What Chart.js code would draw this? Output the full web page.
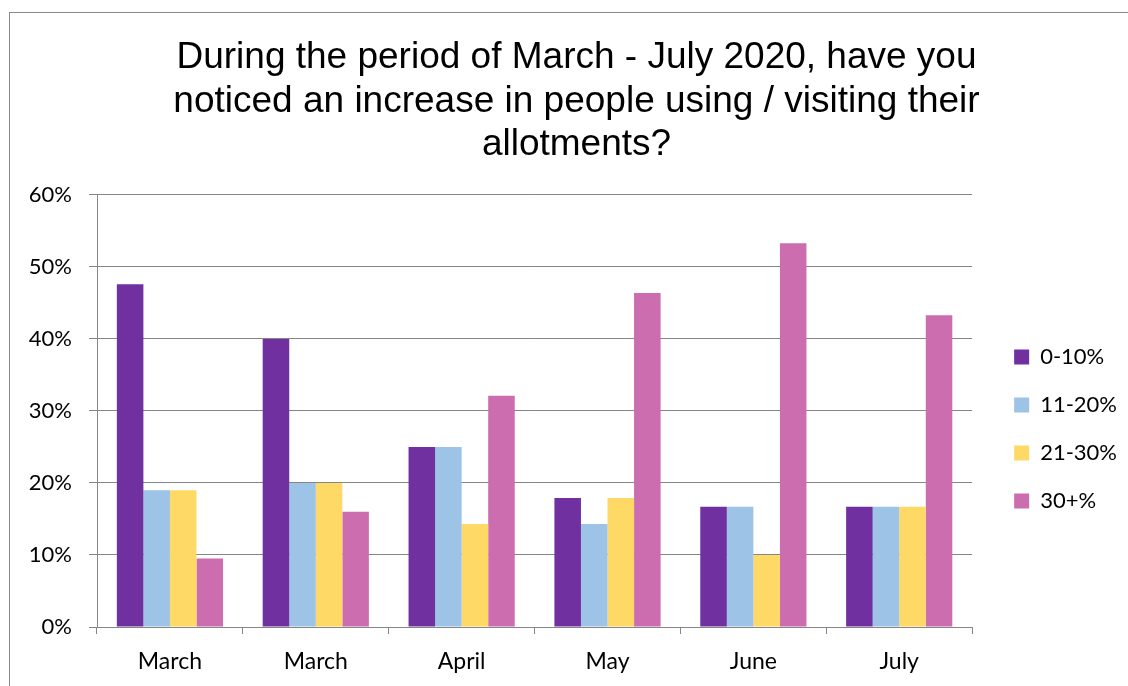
<!DOCTYPE html>
<html><head><meta charset="utf-8">
<script src="https://cdn.jsdelivr.net/npm/chart.js@4.4.1/dist/chart.umd.min.js"></script>
<style>
html,body{margin:0;padding:0;overflow:hidden;background:#fff;width:1128px;height:686px;}
#frame{position:absolute;left:9px;top:12px;width:1300px;height:900px;border:1px solid #8a8a8a;box-sizing:border-box;}
#wrap{position:absolute;left:0;top:0;width:1152px;height:686px;}
</style></head><body>
<div id="frame"></div>
<div id="wrap"><canvas id="c"></canvas></div>
<script>
const categories = ['March', 'March', 'April', 'May', 'June', 'July'];
const seriesLabels = ['0-10%', '11-20%', '21-30%', '30+%'];
const values0to10 = [47.6, 40.0, 25.0, 17.9, 16.7, 16.7];
const values11to20 = [19.0, 20.0, 25.0, 14.3, 16.7, 16.7];
const values21to30 = [19.0, 20.0, 14.3, 17.9, 10.0, 16.7];
const values30plus = [9.5, 16.0, 32.1, 46.4, 53.3, 43.3];
const yTickValues = [0, 10, 20, 30, 40, 50, 60];
const titleLines = ['During the period of March - July 2020, have you', 'noticed an increase in people using / visiting their', 'allotments?'];

const colors = ['#7030A0', '#9DC3E6', '#FFD966', '#CC6DB0'];
const allSeries = [values0to10, values11to20, values21to30, values30plus];
const gridColor = '#868686';
const tickFont = {family: 'Lato', size: 22};

const boxShift = {
  id: 'boxShift',
  afterLayout(chart) {
    const lg = chart.legend;
    if (lg) {
      const dx = 16, dy = 18;
      lg.left += dx; lg.right += dx; lg.top += dy; lg.bottom += dy;
    }
    const tb = chart.titleBlock;
    if (tb) {
      const tx = 21;
      tb.left += tx; tb.right += tx;
    }
  }
};

new Chart(document.getElementById('c'), {
  type: 'bar',
  data: {
    labels: categories,
    datasets: allSeries.map((vals, i) => ({
      label: seriesLabels[i],
      data: vals,
      backgroundColor: colors[i],
      borderWidth: 0,
      categoryPercentage: 0.728,
      barPercentage: 1.0
    }))
  },
  plugins: [boxShift],
  options: {
    responsive: true,
    maintainAspectRatio: false,
    animation: false,
    devicePixelRatio: 1,
    layout: {padding: {left: 0, right: 41, top: 0, bottom: 0}},
    plugins: {
      title: {
        display: true,
        text: titleLines,
        color: '#000',
        font: {family: 'Liberation Sans', size: 37, weight: 'normal', lineHeight: 1.18},
        padding: {top: 36, bottom: 28}
      },
      legend: {
        display: true,
        position: 'right',
        fullSize: false,
        align: 'center',
        labels: {boxWidth: 15, boxHeight: 15, padding: 26, color: '#000', font: tickFont}
      },
      tooltip: {enabled: false}
    },
    scales: {
      x: {
        grid: {drawOnChartArea: false, drawTicks: true, tickLength: 7, color: gridColor, offset: true},
        border: {color: gridColor},
        ticks: {color: '#000', font: {family: 'Lato', size: 23}, padding: 14, maxRotation: 0, autoSkip: false},
        afterFit(s) { s.height = 59; }
      },
      y: {
        min: 0, max: 60,
        grid: {color: gridColor, tickLength: 8, drawTicks: true},
        border: {color: gridColor},
        ticks: {color: '#000', font: tickFont, padding: 17, callback: v => v + '%'},
        afterBuildTicks(s) { s.ticks = yTickValues.map(v => ({value: v})); },
        afterFit(s) { s.width = 97; }
      }
    }
  }
});
</script>
</body></html>
